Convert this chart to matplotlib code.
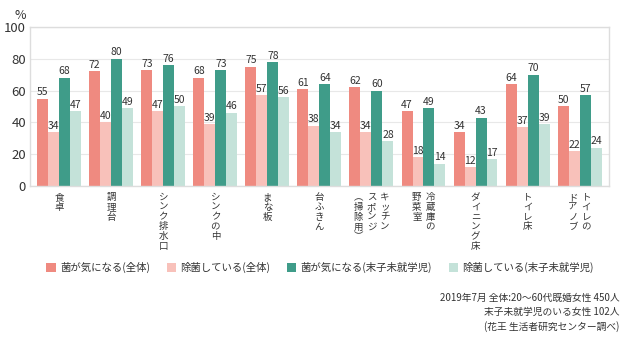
import numpy as np
import matplotlib
matplotlib.use("Agg")
from matplotlib import pyplot as plt

plt.rcParams['font.family'] = ['Noto Sans CJK JP', 'DejaVu Sans']

# each category is drawn as vertical columns, right column first
categories = [
    ["食卓"],
    ["調理台"],
    ["シンク排水口"],
    ["シンクの中"],
    ["まな板"],
    ["台ふきん"],
    ["キッチン", "スポンジ", "︵掃除用︶"],
    ["冷蔵庫の", "野菜室"],
    ["ダイニング床"],
    ["トイレ床"],
    ["トイレの", "ドアノブ"],
]
series_names = ["菌が気になる(全体)", "除菌している(全体)",
                "菌が気になる(末子未就学児)", "除菌している(末子未就学児)"]
kinini_all = [55, 72, 73, 68, 75, 61, 62, 47, 34, 64, 50]
jokin_all = [34, 40, 47, 39, 57, 38, 34, 18, 12, 37, 22]
kinini_kids = [68, 80, 76, 73, 78, 64, 60, 49, 43, 70, 57]
jokin_kids = [47, 49, 50, 46, 56, 34, 28, 14, 17, 39, 24]
notes = ["2019年7月 全体:20～60代既婚女性 450人",
         "末子未就学児のいる女性 102人",
         "(花王 生活者研究センター調べ)"]

colors = ["#EF8A80", "#F8C1BA", "#3F9C89", "#C4E2D9"]
series = [kinini_all, jokin_all, kinini_kids, jokin_kids]

fig = plt.figure(figsize=(6.4, 3.37), dpi=100)
ax = fig.add_axes([0.047, 0.448, 0.905, 0.472])

x = np.arange(len(categories))
w = 0.211
for i, (vals, col, name) in enumerate(zip(series, colors, series_names)):
    bars = ax.bar(x + (i - 1.5) * w, vals, w, color=col, label=name, zorder=2)
    ax.bar_label(bars, padding=1, fontsize=7.5, color="#333333")

ax.set_xlim(-0.56, len(categories) - 1 + 0.57)
ax.set_ylim(0, 100)
ax.set_yticks(range(0, 101, 20))
ax.set_xticks([])
ax.tick_params(axis='y', length=0, labelsize=9.5, colors="#333333", pad=3)
ax.grid(axis='y', color="#e8e8e8", linewidth=0.8, zorder=0)
for s in ax.spines.values():
    s.set_color("#dddddd")
    s.set_linewidth(1.0)

ax.text(-0.017, 1.03, "%", transform=ax.transAxes, fontsize=9, color="#333333",
        ha='center', va='bottom')

# vertical category labels
for xi, cols in zip(x, categories):
    n = len(cols)
    for j, col in enumerate(cols):
        off = ((n - 1) / 2 - j) * 9.5
        ax.annotate("\n".join(col), xy=(xi, 0), xycoords=('data', 'axes fraction'),
                    xytext=(off, -5), textcoords='offset points',
                    ha='center', va='top', fontsize=6.8, color="#333333",
                    linespacing=1.12)

fig.legend(loc='center', bbox_to_anchor=(0.5, 0.205), ncol=4, frameon=False,
           fontsize=7.5, handlelength=0.9, handleheight=0.9, handletextpad=0.4,
           columnspacing=1.6, labelcolor="#333333")

for k, line in enumerate(notes):
    fig.text(0.968, 0.115 - k * 0.042, line, ha='right', va='center',
             fontsize=7, color="#333333")

fig.savefig("out.png", dpi=100)
